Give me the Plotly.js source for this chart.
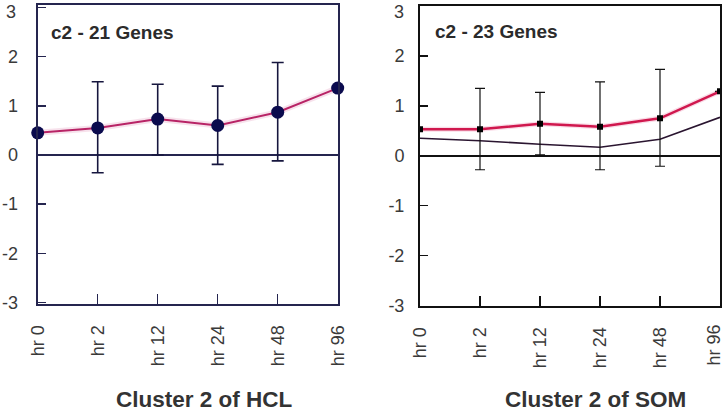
<!DOCTYPE html>
<html>
<head>
<meta charset="utf-8">
<script src="https://cdn.plot.ly/plotly-3.0.1.min.js"></script>
<style>html,body{margin:0;padding:0;background:#fff;}#chart{width:725px;height:413px;}</style>
</head>
<body>
<div id="chart"></div>
<script>
const timepoints = ["hr 0", "hr 2", "hr 12", "hr 24", "hr 48", "hr 96"];
const yTickVals = [-3, -2, -1, 0, 1, 2, 3];
const yTickText = ["-3", "-2", "-1", "0", "1", "2", "3"];

// Cluster 2 of HCL (c2 - 21 Genes)
const hclMean = [0.45, 0.55, 0.73, 0.60, 0.87, 1.36];
const hclErrPlus = [0, 0.94, 0.71, 0.80, 1.01, 0];
const hclErrMinus = [0, 0.91, 0.73, 0.79, 0.99, 0];

// Cluster 2 of SOM (c2 - 23 Genes)
const somMean = [0.53, 0.53, 0.64, 0.58, 0.75, 1.29];
const somErrPlus = [0, 0.82, 0.63, 0.90, 0.98, 0];
const somErrMinus = [0, 0.81, 0.62, 0.86, 0.96, 0];
const somCentroid = [0.35, 0.30, 0.23, 0.17, 0.33, 0.77];

const panelTitles = ["c2 - 21 Genes", "c2 - 23 Genes"];
const bottomTitles = ["Cluster 2 of HCL", "Cluster 2 of SOM"];

const idx = timepoints.map((_, i) => i);
const last = timepoints.length - 1;
const topTick = yTickText[yTickText.length - 1];

const traces = [
  // HCL halo line
  {x: idx, y: hclMean, xaxis: 'x', yaxis: 'y', mode: 'lines',
   line: {color: 'rgba(200,60,130,0.15)', width: 6}, hoverinfo: 'skip', showlegend: false},
  {x: idx, y: hclMean, xaxis: 'x', yaxis: 'y', mode: 'lines',
   line: {color: '#b82466', width: 2}, showlegend: false},
  {x: idx, y: hclMean, xaxis: 'x', yaxis: 'y', mode: 'markers',
   marker: {color: '#0b0b4e', size: 13},
   error_y: {type: 'data', symmetric: false, array: hclErrPlus, arrayminus: hclErrMinus,
             color: '#16163e', thickness: 1.6, width: 6},
   cliponaxis: false, showlegend: false},
  // SOM
  {x: idx, y: somCentroid, xaxis: 'x2', yaxis: 'y2', mode: 'lines',
   line: {color: '#2a1530', width: 1.6}, showlegend: false},
  {x: idx, y: somMean, xaxis: 'x2', yaxis: 'y2', mode: 'lines',
   line: {color: 'rgba(220,60,120,0.18)', width: 5}, hoverinfo: 'skip', showlegend: false},
  {x: idx, y: somMean, xaxis: 'x2', yaxis: 'y2', mode: 'lines+markers',
   line: {color: '#d0184e', width: 2.4},
   marker: {color: '#000000', size: 6, symbol: 'square'},
   error_y: {type: 'data', symmetric: false, array: somErrPlus, arrayminus: somErrMinus,
             color: '#111111', thickness: 1.2, width: 5},
   showlegend: false}
];

const FAM = 'Liberation Sans, Arial, sans-serif';
const tickFont = {family: FAM, size: 18, color: '#3a3a3a'};
const xTickFont = {family: FAM, size: 18, color: '#3a3a3a'};

// Top "3" labels drawn as annotations (nudged inside the page), others by the axis
const yTickTextAxis = yTickText.map((t, i) => i === yTickText.length - 1 ? '' : t);

function xax(domain, col, ticktext) {
  return {domain: domain, range: [0, 5], tickmode: 'array', tickvals: idx, ticktext: ticktext,
    tickangle: -90, ticks: 'inside', ticklen: 10, tickwidth: 1.5, tickcolor: col,
    showline: true, linecolor: col, linewidth: 2, mirror: true, showgrid: false, zeroline: false,
    tickfont: xTickFont, ticklabelstandoff: 12, ticklabeloverflow: 'allow', fixedrange: true};
}
function yax(domain, col, range, anchor, standoff) {
  return {domain: domain, range: range, anchor: anchor, tickmode: 'array', tickvals: yTickVals, ticktext: yTickTextAxis,
    ticks: 'inside', ticklen: 8, tickwidth: 1.5, tickcolor: col,
    showline: true, linecolor: col, linewidth: 2, mirror: true, showgrid: false,
    zeroline: true, zerolinecolor: col, zerolinewidth: 1.5,
    tickfont: tickFont, ticklabelstandoff: standoff, ticklabeloverflow: 'allow', fixedrange: true};
}

const rightTickText = timepoints.map((t, i) => i === last ? '' : t);

const layout = {
  width: 725, height: 413,
  margin: {l: 0, r: 0, t: 0, b: 0},
  paper_bgcolor: '#ffffff', plot_bgcolor: '#ffffff',
  showlegend: false,
  xaxis: xax([37.7/725, 337.7/725], '#25254f', timepoints),
  yaxis: yax([1 - 304/413, 1 - 5/413], '#25254f', [-3.03, 3.05], 'x', 14),
  xaxis2: Object.assign(xax([420/725, 720/725], '#111111', rightTickText), {anchor: 'y2'}),
  yaxis2: yax([1 - 306/413, 1 - 5.5/413], '#111111', [-3.01, 3.01], 'x2', 10),
  annotations: [
    {text: topTick, xref: 'paper', yref: 'paper', x: 18/725, y: 1 - 12/413,
     xanchor: 'right', yanchor: 'middle', showarrow: false, font: tickFont},
    {text: topTick, xref: 'paper', yref: 'paper', x: 406/725, y: 1 - 12/413,
     xanchor: 'right', yanchor: 'middle', showarrow: false, font: tickFont},
    {text: timepoints[last], xref: 'paper', yref: 'paper', x: 713/725, y: 1 - 323/413,
     xanchor: 'center', yanchor: 'top', textangle: -90, showarrow: false, font: xTickFont},
    {text: '<b>' + panelTitles[0] + '</b>', xref: 'paper', yref: 'paper', x: 49/725, y: 1 - 32/413,
     xanchor: 'left', yanchor: 'middle', showarrow: false,
     font: {family: FAM, size: 19, color: '#2b2b2b'}},
    {text: '<b>' + panelTitles[1] + '</b>', xref: 'paper', yref: 'paper', x: 433/725, y: 1 - 31/413,
     xanchor: 'left', yanchor: 'middle', showarrow: false,
     font: {family: FAM, size: 19, color: '#2b2b2b'}},
    {text: '<b>' + bottomTitles[0] + '</b>', xref: 'paper', yref: 'paper', x: 204/725, y: 0.5/413,
     xanchor: 'center', yanchor: 'bottom', borderpad: 0, showarrow: false,
     font: {family: FAM, size: 22.5, color: '#333333'}},
    {text: '<b>' + bottomTitles[1] + '</b>', xref: 'paper', yref: 'paper', x: 595/725, y: 0.5/413,
     xanchor: 'center', yanchor: 'bottom', borderpad: 0, showarrow: false,
     font: {family: FAM, size: 22.5, color: '#333333'}}
  ]
};

Plotly.newPlot('chart', traces, layout, {displayModeBar: false, staticPlot: true});
</script>
</body>
</html>
